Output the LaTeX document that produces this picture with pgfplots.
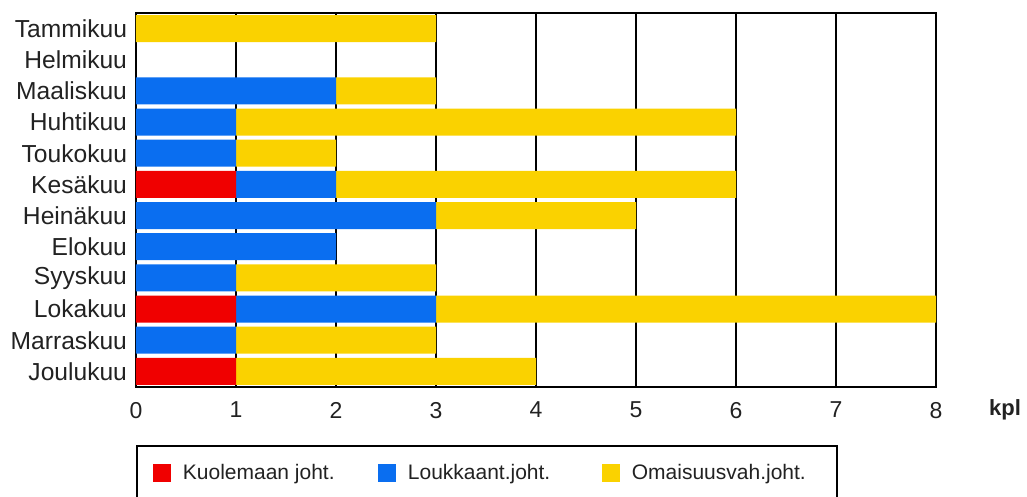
\documentclass[border=0pt]{standalone}
\usepackage{pgfplots}
\pgfplotsset{compat=1.18}
\usepackage{fontspec}
\setmainfont{Liberation Sans}

\definecolor{kred}{HTML}{F00000}
\definecolor{kblue}{HTML}{0A6EF0}
\definecolor{kyellow}{HTML}{FAD200}
\definecolor{txt}{HTML}{222222}

\begin{document}
\begin{tikzpicture}
\begin{axis}[
    at={(0,0)}, anchor=south west,
    scale only axis,
    width=400pt, height=187pt,
    clip=false,
    xbar stacked,
    bar width=13.5pt,
    xmin=0, xmax=8,
    ymin=-0.5, ymax=11.5,
    xtick={0,...,8},
    ytick={0,...,11},
    yticklabels={Joulukuu,Marraskuu,Lokakuu,Syyskuu,Elokuu,Heinäkuu,Kesäkuu,Toukokuu,Huhtikuu,Maaliskuu,Helmikuu,Tammikuu},
    xmajorgrids,
    grid style={black, line width=0.85pt},
    axis line style={black, line width=0.9pt},
    tick style={draw=none},
    ticklabel style={font=\fontsize{11.5}{13}\selectfont, text=txt},
    yticklabel style={font=\fontsize{12.3}{14}\selectfont, xshift=-1pt},
    xticklabel style={yshift=-4pt},
    /pgf/number format/assume math mode=true,
    legend columns=3,
    legend style={
        at={(0,0)}, anchor=north west, yshift=-29pt,
        draw=black, line width=0.9pt,
        inner xsep=8pt, inner ysep=7pt,
        font=\fontsize{10.5}{12}\selectfont,
        text=txt,
        cells={anchor=west},
        /tikz/every odd column/.append style={column sep=4pt},
        /tikz/every row 0 column 0/.append style={yshift=2pt},
    },
    legend image code/.code={\path[#1] (0pt,-4.5pt) rectangle (9pt,4.5pt);},
]
% order bottom to top: Joulukuu ... Tammikuu
\addplot[fill=kred, draw=none] coordinates {
    (1,0) (0,1) (1,2) (0,3) (0,4) (0,5) (1,6) (0,7) (0,8) (0,9) (0,10) (0,11)
};
\addlegendentry{\makebox[95.5pt][l]{Kuolemaan joht.}}
\addplot[fill=kblue, draw=none] coordinates {
    (0,0) (1,1) (2,2) (1,3) (2,4) (3,5) (1,6) (1,7) (1,8) (2,9) (0,10) (0,11)
};
\addlegendentry{\makebox[95pt][l]{Loukkaant.joht.}}
\addplot[fill=kyellow, draw=none] coordinates {
    (3,0) (2,1) (5,2) (2,3) (0,4) (2,5) (4,6) (1,7) (5,8) (1,9) (0,10) (3,11)
};
\addlegendentry{\makebox[92.5pt][l]{Omaisuusvah.joht.\rule[-6pt]{0pt}{1pt}}}
\node[font=\fontsize{11}{13}\selectfont\bfseries, text=txt] at (rel axis cs:1,0) [xshift=34.5pt, yshift=-11.5pt] {kpl};
\end{axis}
\pgfresetboundingbox
\useasboundingbox (-68pt,-55pt) rectangle (445.5pt,193.5pt);
\end{tikzpicture}
\end{document}
